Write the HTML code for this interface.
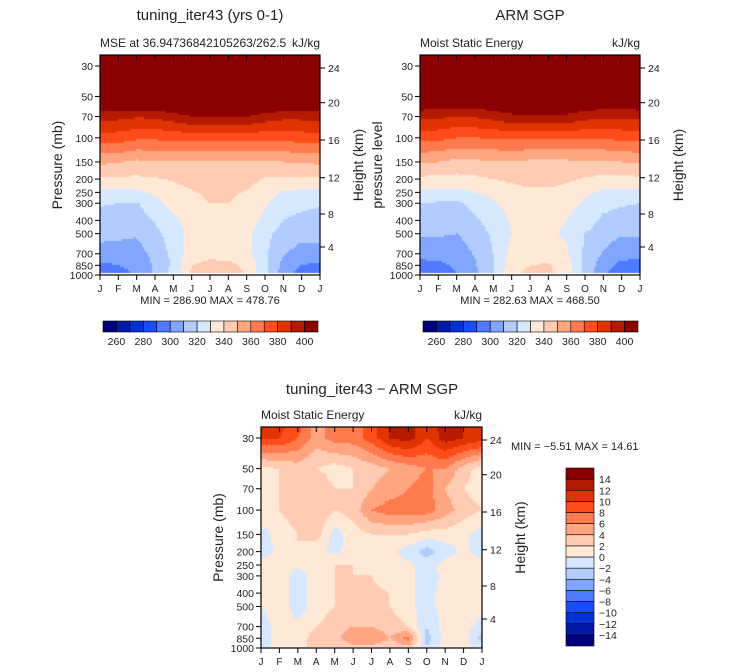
<!DOCTYPE html>
<html><head><meta charset="utf-8"><style>
body{margin:0;background:#fff;width:733px;height:672px;overflow:hidden;position:relative;font-family:"Liberation Sans",sans-serif}
canvas{position:absolute}
svg{position:absolute;left:0;top:0}
</style></head><body>
<canvas id="c1" style="left:100px;top:55px" width="220" height="220"></canvas>
<canvas id="c2" style="left:420px;top:55px" width="220" height="220"></canvas>
<canvas id="c3" style="left:261px;top:427px" width="221" height="221"></canvas>
<svg id="ov" width="733" height="672"></svg>
<script>
const months=["J","F","M","A","M","J","J","A","S","O","N","D","J"];
const presLevels=[20,30,50,70,100,150,200,250,300,400,500,700,850,1000];
const presTicks=[30,50,70,100,150,200,250,300,400,500,700,850,1000];
const hTicks=[24,20,16,12,8,4];
const hTickY=[68,102.7,140,177.7,214,247];
const modelGrid=[
[480,480,480,480,480,480,480,480,480,480,480,480,480],
[470,470,470,470,470,470,470,470,470,470,470,470,470],
[420,420,420,420,420,420,420,420,420,420,420,420,420],
[394,393,391,392,396,400,401,401,400,396,393,393,394],
[376,375,372,372,373,374,374,374,374,373,373,375,376],
[352,351,348,349,350,350,349,349,349,350,350,351,352],
[338,338,338,339,341,344,347,347,344,339,338,338,338],
[328,328,328,332,336,339,342,342,339,334,329,328,328],
[321,320,319,327,333,337,340,340,337,331,325,323,321],
[316,316,315,321,328,334,336,336,334,328,320,317,316],
[313,312,311,317,325,333,335,335,333,323,316,313,313],
[306,306,306,313,323,336,338,337,334,322,311,306,306],
[298,300,304,311,322,340,342,342,338,322,307,300,298],
[292,295,301,311,325,342,346,345,340,323,305,295,292]];
const obsGrid=[
[470,470,470,470,470,470,470,470,470,470,470,470,470],
[460,460,460,460,460,460,460,460,460,460,460,460,460],
[415,415,415,415,415,415,415,415,415,415,415,415,415],
[393,392,390,391,394,398,399,399,398,394,392,392,393],
[374,373,370,370,371,372,372,372,372,371,371,373,374],
[351,350,347,348,349,349,348,348,348,349,349,350,351],
[338,337,337,338,340,342,344,344,342,339,337,337,338],
[327,327,327,330,333,336,338,338,336,332,328,327,327],
[320,319,318,324,329,333,335,335,333,329,323,321,320],
[315,315,314,318,325,331,333,333,330,325,318,316,315],
[311,311,310,314,322,330,331,331,329,320,314,311,311],
[304,305,305,311,320,333,336,335,331,318,309,304,304],
[296,297,302,309,319,336,340,341,335,318,304,297,296],
[290,292,299,308,320,338,343,342,336,318,301,292,290]];
const diffGrid=[
[11,11,10,5,7,6,9,12,14,10,14,12,11],
[10,10,8,5,7,7,9,12,13,10,13,12,11],
[1.5,2,3,2,1,2,3,4,5,6,6,3,1],
[1,2,2,4,2,2,4,5,6,7,4,2,1],
[2,2,3,4,2,3,6,7,7,7,5,3,2],
[-1,1,2,3,-1,1,2,2,2,1,1,0.5,-1],
[-1,0.5,2,0.5,-0.5,1,1,0.5,-1,-3,-1,0.5,-1],
[1,1,0.5,1,2,2,1.5,1,0.5,-1,1,1,1],
[1,1,-1,1,2,2,2,1,0.5,-1,0.5,1,1],
[1,1,-1,1,2,3,2.5,2,0.5,-1,1,1,1],
[0,1,-1,1,2,3,3,2,0.5,-1,1,1,1],
[-1,1,0.5,2,3,4,4,3,2,-2,1,1,-1],
[-2,2,1,3,3,6,6,4,7,-3,1,1,-3],
[-1,1,1,3,2,3,3,2,3,-2,1,1,-1]];
const mseLevels=[260,270,280,290,300,310,320,330,340,350,360,370,380,390,400];
const mseLabels=[260,280,300,320,340,360,380,400];
const diffLevels=[-14,-12,-10,-8,-6,-4,-2,0,2,4,6,8,10,12,14];
const colors=['#00007f','#0019a6','#0033d6','#1a4dff','#4d7aff','#80a6ff','#b3ccff','#d6e8ff','#ffe8d6','#ffccb3','#ffa680','#ff7a4d','#ff4d1a','#e03300','#b31a00','#8b0000'];

function colorFor(v,levels){let i=0;while(i<levels.length&&v>=levels[i])i++;return colors[i];}
function interp(grid,mx,p){
  const lp=Math.log(p);let j=0;
  while(j<presLevels.length-2&&Math.log(presLevels[j+1])<lp)j++;
  let t=(lp-Math.log(presLevels[j]))/(Math.log(presLevels[j+1])-Math.log(presLevels[j]));t=Math.max(0,Math.min(1,t));
  const i=Math.min(11,Math.floor(mx)),s=mx-i;
  const a=grid[j][i]*(1-s)+grid[j][i+1]*s,b=grid[j+1][i]*(1-s)+grid[j+1][i+1]*s;
  return a*(1-t)+b*t;
}
function drawField(id,grid,levels,top,y30,y1000,dataBottom){
  const cv=document.getElementById(id),ctx=cv.getContext('2d');
  const W=cv.width,H=cv.height,k=(y1000-y30)/Math.log(1000/30);
  for(let py=0;py<H;py+=2){
    const y=top+py+1;if(y>dataBottom)break;
    const p=30*Math.exp((y-y30)/k);
    for(let px=0;px<W;px+=2){
      const mx=(px+1)/W*12;
      ctx.fillStyle=colorFor(interp(grid,mx,p),levels);
      ctx.fillRect(px,py,2,2);
    }
  }
}
drawField('c1',modelGrid,mseLevels,55,66,275,272);
drawField('c2',obsGrid,mseLevels,55,66,275,272);
drawField('c3',diffGrid,diffLevels,427,438,648,647);

const NS='http://www.w3.org/2000/svg',ov=document.getElementById('ov');
function el(tag,attrs,txt){const e=document.createElementNS(NS,tag);for(const a in attrs)e.setAttribute(a,attrs[a]);if(txt!==undefined)e.textContent=txt;ov.appendChild(e);return e;}
function text(x,y,s,size,anchor,name,rot){
  const t=el('text',{x:x,y:y,'font-size':size,'text-anchor':anchor||'start',fill:'#222','font-family':'Liberation Sans, sans-serif'},s);
  if(rot)t.setAttribute('transform','rotate(-90 '+x+' '+y+')');
  
  
  return t;
}
function axes(x0,top,y30,y1000,w,hOff,leftTitle,prefix){
  const bottom=y1000,k=(y1000-y30)/Math.log(1000/30);
  const r=el('rect',{x:x0,y:top,width:w,height:bottom-top,fill:'none',stroke:'#000','stroke-width':1.2});
  
  
  presTicks.forEach(p=>{const y=y30+k*Math.log(p/30);
    el('line',{x1:x0-5,x2:x0,y1:y,y2:y,stroke:'#000'});
    text(x0-7,y+4,String(p),10.5,'end',prefix+'-pressure-tick-'+p);});
  hTicks.forEach((h,i)=>{const y=hTickY[i]+hOff;
    el('line',{x1:x0+w,x2:x0+w+5,y1:y,y2:y,stroke:'#000'});
    text(x0+w+8,y+4,String(h),10.5,'start',prefix+'-height-tick-'+h);});
  months.forEach((m,i)=>{const x=x0+i*w/12;
    el('line',{x1:x,x2:x,y1:bottom,y2:bottom+5,stroke:'#000'});
    el('line',{x1:x,x2:x,y1:top,y2:top+5,stroke:'#000'});
    text(x,bottom+17,m,10,'middle',prefix+'-month-'+i);});
  text(x0-38,(top+bottom)/2,leftTitle,14,'middle',prefix+'-y-axis-title',true);
  text(x0+w+43,(top+bottom)/2,'Height (km)',14,'middle',prefix+'-height-axis-title',true);
}
axes(100,55,66,275,220,0,'Pressure (mb)','model');
axes(420,55,66,275,220,0,'pressure level','obs');
axes(261,427,438,648,221,372,'Pressure (mb)','diff');

text(210,20,'tuning_iter43 (yrs 0-1)',15,'middle','model-title');
text(100,47,'MSE at 36.94736842105263/262.5',12,'start','model-subtitle');
text(320,47,'kJ/kg',12,'end','model-units');
text(210,304,'MIN = 286.90 MAX = 478.76',11,'middle','model-min-max');
text(530,20,'ARM SGP',15,'middle','obs-title');
text(420,47,'Moist Static Energy',12,'start','obs-subtitle');
text(640,47,'kJ/kg',12,'end','obs-units');
text(530,304,'MIN = 282.63 MAX = 468.50',11,'middle','obs-min-max');
text(372,394,'tuning_iter43 \u2212 ARM SGP',15,'middle','diff-title');
text(261,419,'Moist Static Energy',12,'start','diff-subtitle');
text(482,419,'kJ/kg',12,'end','diff-units');
text(511,450,'MIN =   \u22125.51  MAX =   14.61',11,'start','diff-min-max');

[[103,'model'],[423,'obs']].forEach(([cx,pre])=>{
  const bw=215/16;
  colors.forEach((c,i)=>{const r=el('rect',{x:cx+i*bw,y:321,width:bw,height:11,fill:c,stroke:'#000','stroke-width':0.6});
    
    });
  mseLabels.forEach(v=>{const i=mseLevels.indexOf(v)+1;text(cx+i*bw,345,String(v),10.5,'middle',pre+'-colorbar-label-'+v);});
});
const bh=178/16;
colors.forEach((c,i)=>{const r=el('rect',{x:566,y:468+(15-i)*bh,width:28,height:bh,fill:c,stroke:'#000','stroke-width':0.6});
  
  });
diffLevels.forEach((v,i)=>{const y=468+(15-i)*bh;text(599,y+4,(v<0?'\u2212':'')+Math.abs(v),10.5,'start','diff-colorbar-label-'+i);});
</script>
</body></html>
